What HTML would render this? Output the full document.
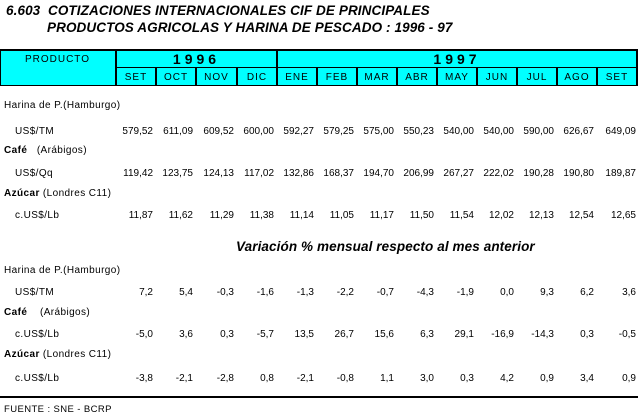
<!DOCTYPE html>
<html><head><meta charset="utf-8"><style>
body{margin:0;background:#fff;width:638px;height:416px;position:relative;overflow:hidden;font-family:"Liberation Sans",sans-serif;color:#000}
.t{position:absolute;font-weight:bold;font-style:italic;font-size:13.5px;left:6px;letter-spacing:0.1px;white-space:nowrap}
.hdr{position:absolute;left:0;top:49px;width:637px;height:37px;background:#00ffff;border-top:2px solid #000;border-bottom:1px solid #000;border-left:1px solid #000;box-sizing:border-box}
.c{position:absolute;border-left:2px solid #000;font-size:10px;letter-spacing:1px;text-align:center;box-sizing:border-box}
.r{position:absolute;left:0;width:638px;height:14px;font-size:10px;letter-spacing:0}
.r span{position:absolute;width:40px;text-align:right}
.l{position:absolute;font-size:10px;letter-spacing:0.4px;white-space:nowrap}
.b{font-weight:bold}
</style></head><body>
<div class="t" style="top:3px">6.603&nbsp; COTIZACIONES INTERNACIONALES CIF DE PRINCIPALES</div>
<div class="t" style="top:20px;left:47px">PRODUCTOS AGRICOLAS Y HARINA DE PESCADO : 1996 - 97</div>
<div class="hdr"></div>
<div style="position:absolute;left:636px;top:49px;width:2px;height:37px;background:#000"></div>
<div class="c" style="left:0;top:51px;width:115px;height:34px;border-left:none;line-height:18px">PRODUCTO</div>
<div class="c" style="left:115px;top:51px;width:161px;height:17px;border-bottom:1px solid #000;font-weight:bold;font-size:14px;letter-spacing:4px;line-height:17px">1996</div>
<div class="c" style="left:276px;top:51px;width:360px;height:17px;border-bottom:1px solid #000;font-weight:bold;font-size:14px;letter-spacing:4px;line-height:17px">1997</div>
<div class="c" style="left:115px;top:68px;width:40px;height:17px;line-height:19px">SET</div>
<div class="c" style="left:155px;top:68px;width:40px;height:17px;line-height:19px">OCT</div>
<div class="c" style="left:195px;top:68px;width:41px;height:17px;line-height:19px">NOV</div>
<div class="c" style="left:236px;top:68px;width:40px;height:17px;line-height:19px">DIC</div>
<div class="c" style="left:276px;top:68px;width:40px;height:17px;line-height:19px">ENE</div>
<div class="c" style="left:316px;top:68px;width:40px;height:17px;line-height:19px">FEB</div>
<div class="c" style="left:356px;top:68px;width:40px;height:17px;line-height:19px">MAR</div>
<div class="c" style="left:396px;top:68px;width:40px;height:17px;line-height:19px">ABR</div>
<div class="c" style="left:436px;top:68px;width:40px;height:17px;line-height:19px">MAY</div>
<div class="c" style="left:476px;top:68px;width:40px;height:17px;line-height:19px">JUN</div>
<div class="c" style="left:516px;top:68px;width:40px;height:17px;line-height:19px">JUL</div>
<div class="c" style="left:556px;top:68px;width:40px;height:17px;line-height:19px">AGO</div>
<div class="c" style="left:596px;top:68px;width:40px;height:17px;line-height:19px">SET</div>

<div class="l" style="left:4px;top:100px">Harina de P.(Hamburgo)</div>
<div class="r" style="top:126px"><b class="l" style="left:15px;font-weight:normal">US$/TM</b><span style="left:113px">579,52</span><span style="left:153px">611,09</span><span style="left:194px">609,52</span><span style="left:234px">600,00</span><span style="left:274px">592,27</span><span style="left:314px">579,25</span><span style="left:354px">575,00</span><span style="left:394px">550,23</span><span style="left:434px">540,00</span><span style="left:474px">540,00</span><span style="left:514px">590,00</span><span style="left:554px">626,67</span><span style="left:596px">649,09</span></div>
<div class="l b" style="left:4px;top:145px">Café&nbsp;&nbsp; <span style="font-weight:normal">(Arábigos)</span></div>
<div class="r" style="top:168px"><b class="l" style="left:15px;font-weight:normal">US$/Qq</b><span style="left:113px">119,42</span><span style="left:153px">123,75</span><span style="left:194px">124,13</span><span style="left:234px">117,02</span><span style="left:274px">132,86</span><span style="left:314px">168,37</span><span style="left:354px">194,70</span><span style="left:394px">206,99</span><span style="left:434px">267,27</span><span style="left:474px">222,02</span><span style="left:514px">190,28</span><span style="left:554px">190,80</span><span style="left:596px">189,87</span></div>
<div class="l" style="left:4px;top:188px"><b>Azúcar</b> (Londres C11)</div>
<div class="r" style="top:210px"><b class="l" style="left:15px;font-weight:normal">c.US$/Lb</b><span style="left:113px">11,87</span><span style="left:153px">11,62</span><span style="left:194px">11,29</span><span style="left:234px">11,38</span><span style="left:274px">11,14</span><span style="left:314px">11,05</span><span style="left:354px">11,17</span><span style="left:394px">11,50</span><span style="left:434px">11,54</span><span style="left:474px">12,02</span><span style="left:514px">12,13</span><span style="left:554px">12,54</span><span style="left:596px">12,65</span></div>

<div class="t" style="left:236px;top:239px">Variación % mensual respecto al mes anterior</div>

<div class="l" style="left:4px;top:265px">Harina de P.(Hamburgo)</div>
<div class="r" style="top:287px"><b class="l" style="left:15px;font-weight:normal">US$/TM</b><span style="left:113px">7,2</span><span style="left:153px">5,4</span><span style="left:194px">-0,3</span><span style="left:234px">-1,6</span><span style="left:274px">-1,3</span><span style="left:314px">-2,2</span><span style="left:354px">-0,7</span><span style="left:394px">-4,3</span><span style="left:434px">-1,9</span><span style="left:474px">0,0</span><span style="left:514px">9,3</span><span style="left:554px">6,2</span><span style="left:596px">3,6</span></div>
<div class="l b" style="left:4px;top:307px">Café&nbsp;&nbsp;&nbsp; <span style="font-weight:normal">(Arábigos)</span></div>
<div class="r" style="top:329px"><b class="l" style="left:15px;font-weight:normal">c.US$/Lb</b><span style="left:113px">-5,0</span><span style="left:153px">3,6</span><span style="left:194px">0,3</span><span style="left:234px">-5,7</span><span style="left:274px">13,5</span><span style="left:314px">26,7</span><span style="left:354px">15,6</span><span style="left:394px">6,3</span><span style="left:434px">29,1</span><span style="left:474px">-16,9</span><span style="left:514px">-14,3</span><span style="left:554px">0,3</span><span style="left:596px">-0,5</span></div>
<div class="l" style="left:4px;top:349px"><b>Azúcar</b> (Londres C11)</div>
<div class="r" style="top:373px"><b class="l" style="left:15px;font-weight:normal">c.US$/Lb</b><span style="left:113px">-3,8</span><span style="left:153px">-2,1</span><span style="left:194px">-2,8</span><span style="left:234px">0,8</span><span style="left:274px">-2,1</span><span style="left:314px">-0,8</span><span style="left:354px">1,1</span><span style="left:394px">3,0</span><span style="left:434px">0,3</span><span style="left:474px">4,2</span><span style="left:514px">0,9</span><span style="left:554px">3,4</span><span style="left:596px">0,9</span></div>

<div style="position:absolute;left:0;top:396px;width:638px;height:2px;background:#000"></div>
<div class="l" style="left:4px;top:404px;font-size:9.5px">FUENTE : SNE - BCRP</div>
</body></html>
